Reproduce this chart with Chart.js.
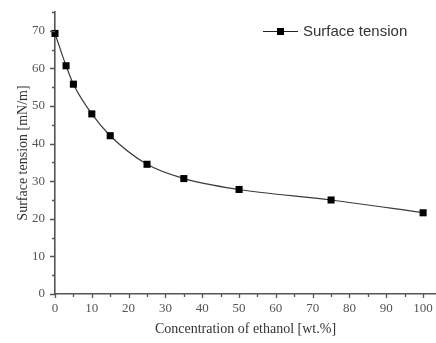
<!DOCTYPE html>
<html>
<head>
<meta charset="utf-8">
<script src="https://cdn.jsdelivr.net/npm/chart.js@4/dist/chart.umd.min.js"></script>
<style>
    html, body { margin: 0; padding: 0; background: #fff; }
    #wrap { width: 436px; height: 343px; }
</style>
</head>
<body>
<div id="wrap"><canvas id="tensionChart" width="436" height="343"></canvas></div>
<script>
const concentration = [0, 3, 5, 10, 15, 25, 35, 50, 75, 100];
const surfaceTension = [69.3, 60.7, 55.8, 47.9, 42.1, 34.5, 30.7, 27.8, 25.0, 21.6];
const xTickValues = [0, 5, 10, 15, 20, 25, 30, 35, 40, 45, 50, 55, 60, 65, 70, 75, 80, 85, 90, 95, 100];
const yTickValues = [0, 5, 10, 15, 20, 25, 30, 35, 40, 45, 50, 55, 60, 65, 70, 75];
const seriesName = 'Surface tension';

// tick marks drawn on the outside, major every 10, minor every 5
const tickMarks = {
    id: 'tickMarks',
    afterDraw(chart) {
        const ctx = chart.ctx;
        const xs = chart.scales.x;
        const ys = chart.scales.y;
        ctx.save();
        ctx.strokeStyle = '#555';
        ctx.lineWidth = 1.3;
        ctx.beginPath();
        xTickValues.forEach(v => {
            const px = Math.round(xs.getPixelForValue(v)) + 0.5;
            const len = v % 10 === 0 ? 4 : 3;
            ctx.moveTo(px, ys.bottom);
            ctx.lineTo(px, ys.bottom + len);
        });
        yTickValues.forEach(v => {
            const py = Math.round(ys.getPixelForValue(v)) + 0.5;
            const len = v % 10 === 0 ? 5 : 3;
            ctx.moveTo(xs.left, py);
            ctx.lineTo(xs.left - len, py);
        });
        ctx.stroke();
        ctx.restore();
    }
};

// legend: line - square - line, then the label
const plotLegend = {
    id: 'plotLegend',
    afterDraw(chart) {
        const ctx = chart.ctx;
        const y = 31.5;
        ctx.save();
        ctx.strokeStyle = '#222';
        ctx.lineWidth = 1.2;
        ctx.beginPath();
        ctx.moveTo(263, y);
        ctx.lineTo(298, y);
        ctx.stroke();
        ctx.fillStyle = '#000';
        ctx.fillRect(277, y - 3.5, 7, 7);
        ctx.fillStyle = '#333';
        ctx.font = '15px "Liberation Sans", Arial, sans-serif';
        ctx.textBaseline = 'middle';
        ctx.fillText(chart.data.datasets[0].label, 303, y + 0.5);
        ctx.restore();
    }
};

function initializeTensionChart() {
    const canvas = document.getElementById('tensionChart');

    const data = {
        datasets: [{
            label: seriesName,
            data: concentration.map((c, i) => ({ x: c, y: surfaceTension[i] })),
            showLine: true,
            borderColor: '#3a3a3a',
            borderWidth: 1.2,
            cubicInterpolationMode: 'monotone',
            pointStyle: 'rect',
            pointRadius: 5,
            pointBackgroundColor: '#000',
            pointBorderColor: '#000',
            pointBorderWidth: 0,
            clip: false
        }]
    };

    const tickFont = { family: '"Liberation Serif", "Times New Roman", serif', size: 13 };
    const titleFont = { family: '"Liberation Serif", "Times New Roman", serif', size: 14 };

    const options = {
        responsive: false,
        animation: false,
        layout: { autoPadding: false, padding: { top: 12, right: 0, left: 0, bottom: 0 } },
        plugins: {
            legend: { display: false },
            tooltip: { enabled: false }
        },
        scales: {
            x: {
                type: 'linear',
                min: 0,
                max: 103.5,
                afterBuildTicks: scale => {
                    scale.ticks = xTickValues.filter(v => v % 10 === 0).map(v => ({ value: v }));
                },
                afterFit: scale => {
                    scale.height = 49;
                    scale.paddingLeft = 0;
                    scale.paddingRight = 0;
                },
                grid: { display: false, drawOnChartArea: false, drawTicks: false },
                border: { display: true, color: '#555', width: 1.6 },
                ticks: { color: '#555', font: tickFont, padding: 7, maxRotation: 0, autoSkip: false },
                title: {
                    display: true,
                    text: 'Concentration of ethanol [wt.%]',
                    color: '#333',
                    font: titleFont,
                    padding: { top: 4, bottom: 5 }
                }
            },
            y: {
                type: 'linear',
                min: 0,
                max: 75,
                afterBuildTicks: scale => {
                    scale.ticks = yTickValues.filter(v => v % 10 === 0).map(v => ({ value: v }));
                },
                afterFit: scale => {
                    scale.width = 55;
                    scale.paddingTop = 0;
                    scale.paddingBottom = 0;
                },
                grid: { display: false, drawOnChartArea: false, drawTicks: false },
                border: { display: true, color: '#555', width: 1.6 },
                ticks: { color: '#555', font: tickFont, padding: 10, autoSkip: false },
                title: {
                    display: true,
                    text: 'Surface tension [mN/m]',
                    color: '#333',
                    font: titleFont,
                    padding: { top: 15, bottom: 0 }
                }
            }
        }
    };

    new Chart(canvas, {
        type: 'scatter',
        data: data,
        options: options,
        plugins: [tickMarks, plotLegend]
    });
}

window.addEventListener('load', initializeTensionChart);
</script>
</body>
</html>
